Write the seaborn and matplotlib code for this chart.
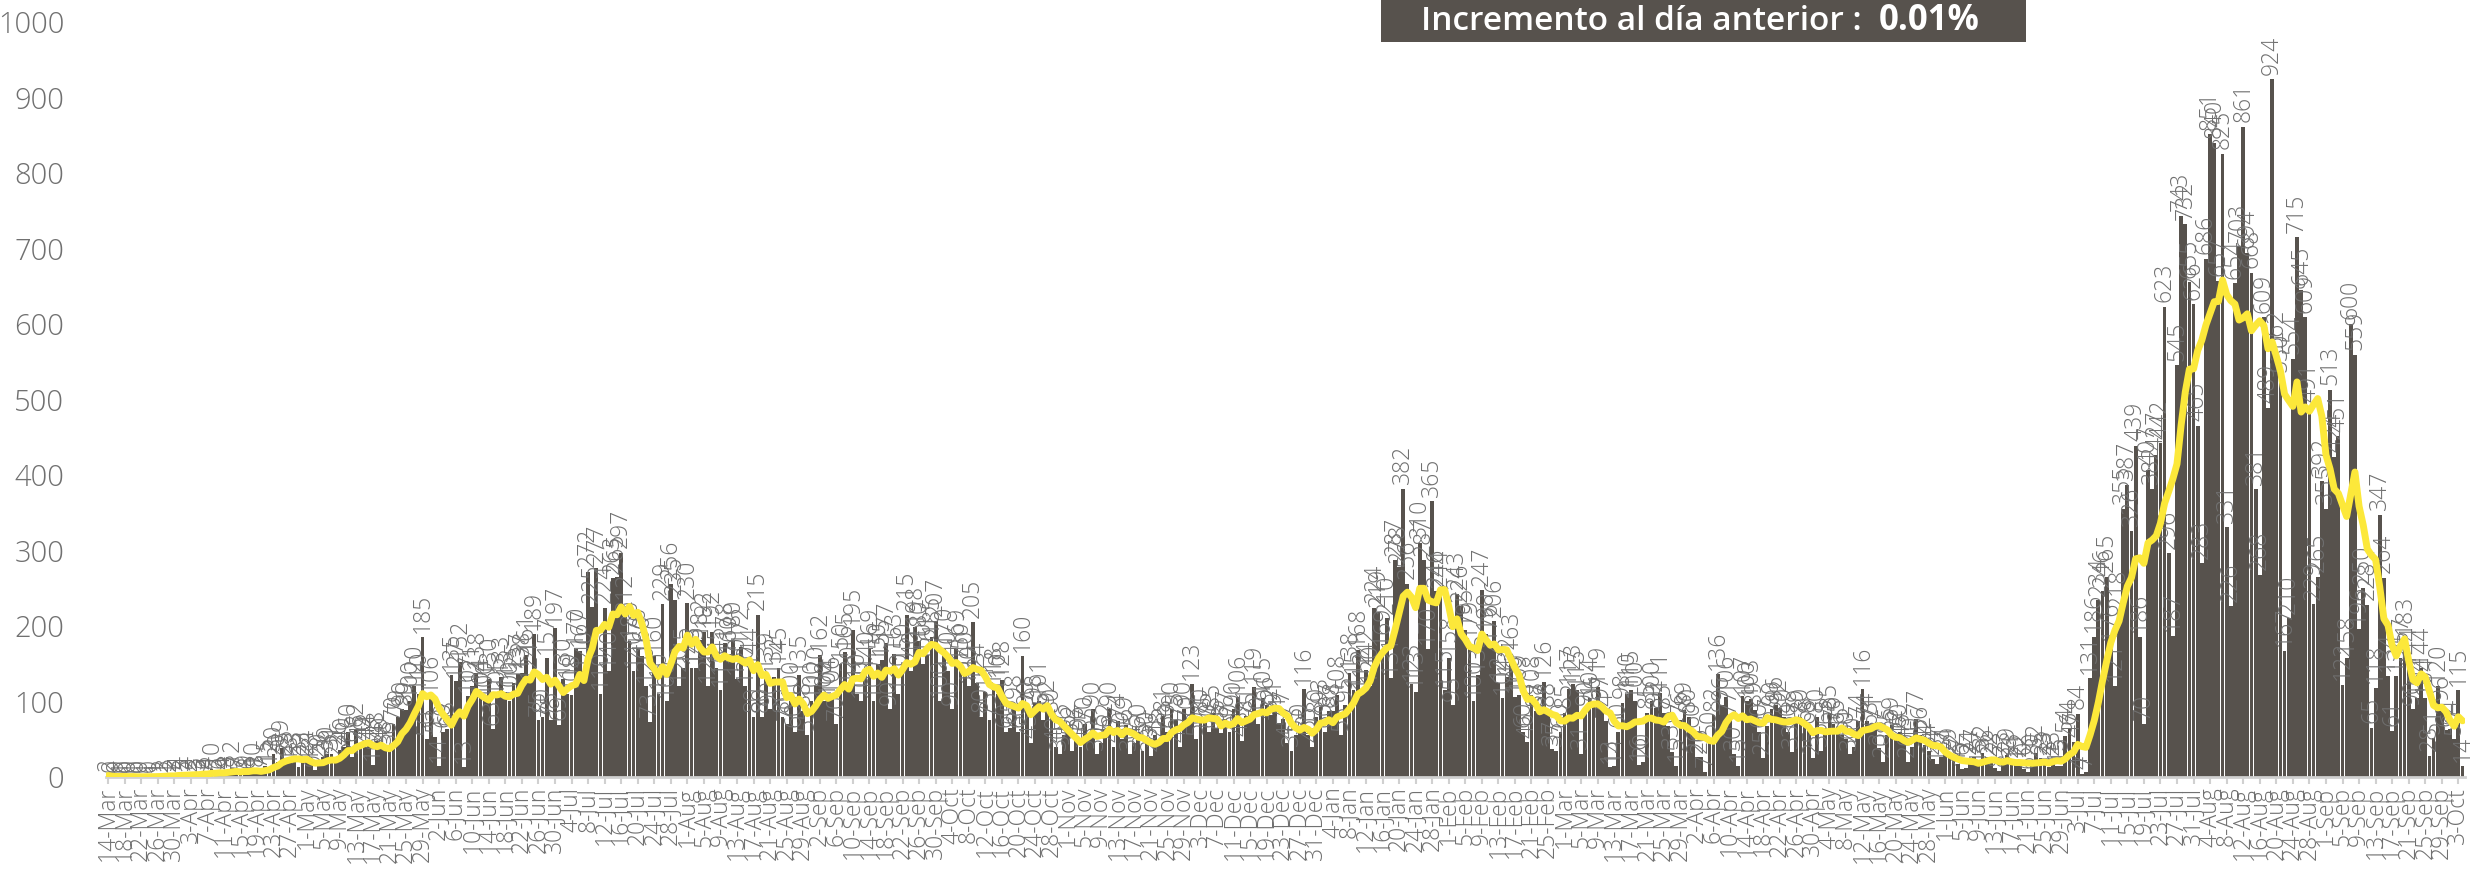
"""
Casos diarios con media movil de 7 dias
"""

import numpy as np
import pandas as pd
import matplotlib
matplotlib.use("Agg")
import matplotlib.pyplot as plt
from matplotlib.patches import Rectangle
import seaborn as sns

# daily values per month (first day = 14-Mar-2020)
mar_2020 = [2, 0, 0, 1, 0, 0, 1, 0, 0, 1, 0, 1, 1, 2, 3, 2, 1, 4]
apr_2020 = [3, 4, 2, 5, 3, 6, 4, 10, 5, 6, 4, 8, 12, 7, 5, 9, 6, 10, 8, 7,
            15, 12, 30, 20, 39, 25, 18, 23, 13, 23]
may_2020 = [24, 18, 9, 20, 26, 30, 31, 22, 36, 40, 60, 26, 62, 45, 40, 44, 16, 48, 40, 38,
            36, 70, 79, 90, 89, 100, 120, 110, 185, 50, 106]
jun_2020 = [53, 14, 60, 63, 135, 127, 152, 13, 107, 121, 138, 104, 100, 130, 63, 105, 133, 113, 100, 125,
            137, 138, 161, 124, 189, 75, 80, 157, 75, 197]
jul_2020 = [69, 130, 110, 108, 170, 167, 140, 272, 225, 277, 110, 224, 140, 263, 265, 297, 212, 180, 140, 170,
            160, 120, 73, 160, 110, 229, 100, 256, 235, 120, 145]
aug_2020 = [230, 145, 145, 182, 192, 120, 192, 145, 115, 178, 160, 180, 130, 172, 120, 144, 80, 215, 80, 139,
            90, 132, 145, 80, 70, 100, 60, 135, 88, 55, 100]
sep_2020 = [120, 162, 100, 104, 106, 70, 150, 165, 120, 195, 110, 100, 140, 169, 100, 150, 155, 177, 90, 163,
            110, 150, 215, 140, 198, 180, 150, 161, 185, 207]
oct_2020 = [100, 170, 140, 90, 169, 150, 140, 120, 205, 124, 80, 113, 75, 118, 110, 128, 60, 65, 98, 60,
            160, 90, 45, 98, 101, 75, 92, 80, 40, 30, 56]
nov_2020 = [62, 35, 56, 40, 70, 55, 90, 30, 45, 62, 90, 40, 74, 50, 69, 30, 45, 60, 35, 50,
            28, 55, 48, 81, 60, 90, 75, 40, 90, 70]
dec_2020 = [123, 50, 80, 75, 60, 85, 65, 58, 77, 60, 90, 106, 48, 81, 75, 119, 70, 105, 96, 82,
            91, 71, 77, 45, 35, 55, 60, 116, 55, 40, 80]
jan_2021 = [93, 60, 87, 88, 108, 55, 95, 138, 115, 168, 112, 142, 120, 224, 219, 169, 210, 131, 287, 278,
            382, 256, 123, 113, 310, 287, 170, 365, 246, 244, 115]
feb_2021 = [158, 95, 243, 226, 195, 179, 100, 135, 247, 190, 176, 206, 124, 104, 132, 163, 106, 109, 60, 46,
            108, 88, 87, 126, 88, 37, 35, 60]
mar_2021 = [85, 117, 123, 115, 31, 90, 104, 96, 119, 97, 74, 13, 14, 60, 98, 110, 115, 100, 16, 20,
            85, 100, 92, 111, 85, 67, 33, 15, 76, 89, 80]
apr_2021 = [60, 26, 26, 7, 50, 82, 136, 96, 106, 77, 30, 15, 107, 100, 103, 89, 60, 25, 67, 90,
            96, 92, 80, 60, 33, 79, 80, 68, 65, 25]
may_2021 = [80, 35, 65, 85, 70, 65, 55, 50, 30, 40, 74, 116, 74, 63, 71, 38, 20, 55, 69, 52,
            60, 45, 20, 40, 77, 56, 42, 34, 24, 17, 27]
jun_2021 = [31, 29, 22, 17, 10, 12, 24, 27, 15, 32, 26, 22, 12, 8, 23, 29, 21, 19, 22, 10,
            6, 20, 32, 25, 23, 13, 23, 15, 15, 54]
jul_2021 = [64, 47, 84, 4, 7, 131, 186, 234, 246, 265, 176, 121, 218, 355, 387, 326, 439, 186, 70, 407,
            382, 427, 442, 623, 296, 187, 545, 743, 732, 655, 626]
aug_2021 = [465, 283, 686, 851, 840, 657, 825, 331, 226, 654, 703, 861, 694, 668, 381, 268, 609, 489, 924, 562,
            530, 167, 210, 554, 715, 645, 609, 491, 229, 265, 392]
sep_2021 = [355, 513, 424, 451, 122, 158, 600, 559, 196, 250, 228, 65, 118, 347, 264, 134, 61, 134, 157, 183,
            144, 90, 104, 144, 104, 28, 51, 120, 96, 62]
oct_2021 = [64, 50, 115, 14]

START = "2020-03-14"
TITLE_TXT = "Incremento al día anterior :"
TITLE_PCT = "0.01%"

BAR_COLOR = "#57524D"
LINE_COLOR = "#FCE83A"
TEXT_GRAY = "#707070"

values = (mar_2020 + apr_2020 + may_2020 + jun_2020 + jul_2020 + aug_2020 + sep_2020
          + oct_2020 + nov_2020 + dec_2020 + jan_2021 + feb_2021 + mar_2021 + apr_2021
          + may_2021 + jun_2021 + jul_2021 + aug_2021 + sep_2021 + oct_2021)
dates = pd.date_range(START, periods=len(values), freq="D")

df = pd.DataFrame({"idx": np.arange(len(values)), "casos": values})
df["media"] = df["casos"].rolling(7, min_periods=1).mean()

sns.set_theme(style="white")
plt.rcParams["font.family"] = ["Open Sans", "DejaVu Sans"]

fig = plt.figure(figsize=(24.71, 8.75), dpi=100)
ax = fig.add_axes([0.0429, 0.112, 0.9545, 0.863])

sns.barplot(data=df, x="idx", y="casos", native_scale=True, color=BAR_COLOR,
            saturation=1, width=0.92, errorbar=None, linewidth=0, ax=ax)
sns.lineplot(data=df, x="idx", y="media", color=LINE_COLOR, linewidth=5,
             ax=ax, zorder=6)

# value labels above each bar
for i, v in zip(df["idx"], df["casos"]):
    ax.text(i, v + 6, str(v), rotation=90, ha="center", va="bottom",
            fontsize=16.5, color=TEXT_GRAY, fontweight="light", zorder=5)

ax.set_xlim(-0.5, len(values) - 0.5)
ax.set_ylim(0, 1000)
ax.set_yticks(range(0, 1001, 100))
ax.set_yticklabels([str(t) for t in range(0, 1001, 100)], fontsize=21,
                   color=TEXT_GRAY, fontweight="light")

tick_pos = df["idx"].values[::4]
tick_lab = [f"{d.day}-{d.strftime('%b')}" for d in dates[::4]]
ax.set_xticks(tick_pos)
ax.set_xticklabels(tick_lab, rotation=90, fontsize=16.5, color=TEXT_GRAY,
                   fontweight="light")
ax.tick_params(axis="x", length=5, width=1.5, color="#D0D0D0", pad=2, bottom=True)
ax.tick_params(axis="y", length=0, pad=30)
ax.set_xlabel("")
ax.set_ylabel("")

for side in ["top", "right", "left"]:
    ax.spines[side].set_visible(False)
ax.spines["bottom"].set_color("#D0D0D0")
ax.spines["bottom"].set_linewidth(2)

# header box
fig.patches.append(Rectangle((0.559, 0.952), 0.261, 0.048, transform=fig.transFigure,
                             facecolor=BAR_COLOR, edgecolor="none", zorder=10))
fig.text(0.7535, 0.9755, TITLE_TXT, ha="right", va="center", color="white",
         fontsize=24, fontweight="semibold", zorder=11)
fig.text(0.7605, 0.9755, TITLE_PCT, ha="left", va="center", color="white",
         fontsize=25, fontweight="bold", zorder=11)

fig.savefig("out.png", dpi=100)
plt.close(fig)
